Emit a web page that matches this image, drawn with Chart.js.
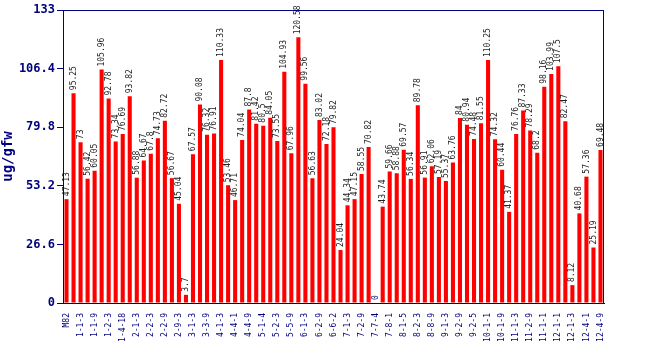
<!DOCTYPE html>
<html>
<head>
<meta charset="utf-8">
<script src="https://cdn.jsdelivr.net/npm/chart.js@4"></script>
<style>
  html, body { margin: 0; padding: 0; background: #fff; }
  #wrap { width: 650px; height: 350px; }
</style>
</head>
<body>
<div id="wrap"><canvas id="chart"></canvas></div>
<script>
// sample ids, every other one is printed on the axis
const samples = [
  'M82', 'M82-2', '1-1-3', '1-1-5', '1-1-9', '1-2-1', '1-2-3', '1-2-9', '1-4-18', '1-4-20',
  '2-1-3', '2-1-9', '2-2-3', '2-2-5', '2-2-9', '2-3-1', '2-9-3', '2-9-9', '3-1-3', '3-1-9',
  '3-3-9', '3-4-1', '4-1-3', '4-1-9', '4-4-1', '4-4-3', '4-4-9', '4-5-1', '5-1-4', '5-1-9',
  '5-2-3', '5-2-9', '5-5-9', '5-6-1', '6-1-3', '6-1-9', '6-2-9', '6-3-1', '6-6-2', '6-6-9',
  '7-1-3', '7-1-9', '7-2-9', '7-3-1', '7-7-4', '7-7-9', '7-8-1', '7-8-3', '8-1-5', '8-1-9',
  '8-2-3', '8-2-9', '8-8-9', '8-9-1', '9-1-3', '9-1-9', '9-2-9', '9-2-1', '9-2-5', '9-3-1',
  '10-1-1', '10-1-3', '10-1-9', '10-2-1', '11-1-3', '11-1-9', '11-2-9', '11-2-1', '11-1-1', '11-3-1',
  '12-1-1', '12-1-2', '12-1-3', '12-1-9', '12-4-1', '12-4-3', '12-4-9'
];

const amounts = [
  47.13, 95.25, 73, 56.42, 60.05, 105.96, 92.78, 73.34, 76.69, 93.82,
  56.88, 64.67, 67.8, 74.73, 82.72, 56.67, 45.04, 3.7, 67.57, 90.08,
  76.32, 76.91, 110.33, 53.46, 46.71, 74.04, 87.8, 81.42, 80.5, 84.05,
  73.55, 104.93, 67.96, 120.58, 99.56, 56.63, 83.02, 72.18, 79.82,
  24.04, 44.34, 47.15, 58.55, 70.82, 0, 43.74, 59.66, 58.88, 69.57,
  56.34, 89.78, 56.91, 62.06, 57.19, 55.37, 63.76, 84,
  80.94, 74.48, 81.55, 110.25, 74.32, 60.44, 41.37, 76.76, 87.33, 78.29,
  68.2, 98.16, 103.99, 107.5, 82.47, 8.12, 40.68, 57.36, 25.19, 69.48
];

const yTicks = [0, 26.6, 53.2, 79.8, 106.4, 133];

const navy = '#000080';

// value printed vertically above each bar, plus the box around the plot
const barLabels = {
  id: 'barLabels',
  afterDatasetsDraw(chart) {
    const ctx = chart.ctx;
    const meta = chart.getDatasetMeta(0);
    ctx.save();
    ctx.font = '8px "DejaVu Sans Mono"';
    ctx.textAlign = 'left';
    ctx.textBaseline = 'middle';
    meta.data.forEach((bar, i) => {
      ctx.save();
      ctx.translate(bar.x, bar.y - 3);
      ctx.rotate(-Math.PI / 2);
      ctx.fillStyle = amounts[i] === 0 ? navy : '#222';
      ctx.fillText(String(amounts[i]), 0, 0);
      ctx.restore();
    });
    const a = chart.chartArea;
    ctx.strokeStyle = navy;
    ctx.lineWidth = 1;
    ctx.strokeRect(a.left + 0.5, a.top + 0.5, a.right - a.left - 1, a.bottom - a.top);
    ctx.restore();
  }
};

new Chart(document.getElementById('chart'), {
  type: 'bar',
  data: {
    labels: samples,
    datasets: [{
      data: amounts,
      backgroundColor: '#ff0000',
      borderWidth: 0,
      barPercentage: 0.58,
      categoryPercentage: 1.0
    }]
  },
  options: {
    responsive: true,
    maintainAspectRatio: false,
    animation: false,
    layout: { padding: { top: 10, right: 46, left: 0, bottom: 0 } },
    plugins: {
      legend: { display: false },
      tooltip: { enabled: false }
    },
    scales: {
      x: {
        grid: { display: false },
        border: { color: navy },
        afterFit: s => { s.height = 47; },
        ticks: {
          autoSkip: false,
          minRotation: 90,
          maxRotation: 90,
          padding: 2,
          color: navy,
          font: { family: 'DejaVu Sans Mono', size: 8 },
          callback: (v, i) => (i % 2 === 0 ? samples[i] : '')
        }
      },
      y: {
        min: 0,
        max: 133,
        afterFit: s => { s.width = 63; },
        afterBuildTicks: s => { s.ticks = yTicks.map(v => ({ value: v })); },
        border: { color: navy },
        grid: { drawOnChartArea: false, color: navy, tickLength: 6 },
        ticks: {
          color: navy,
          padding: 2,
          font: { family: 'DejaVu Sans Mono', size: 12, weight: 'bold' },
          callback: v => String(v)
        },
        title: {
          display: true,
          text: 'ug/gfw',
          color: navy,
          padding: 0,
          font: { family: 'DejaVu Sans Mono', size: 14, weight: 'bold' }
        }
      }
    }
  },
  plugins: [barLabels]
});
</script>
</body>
</html>
